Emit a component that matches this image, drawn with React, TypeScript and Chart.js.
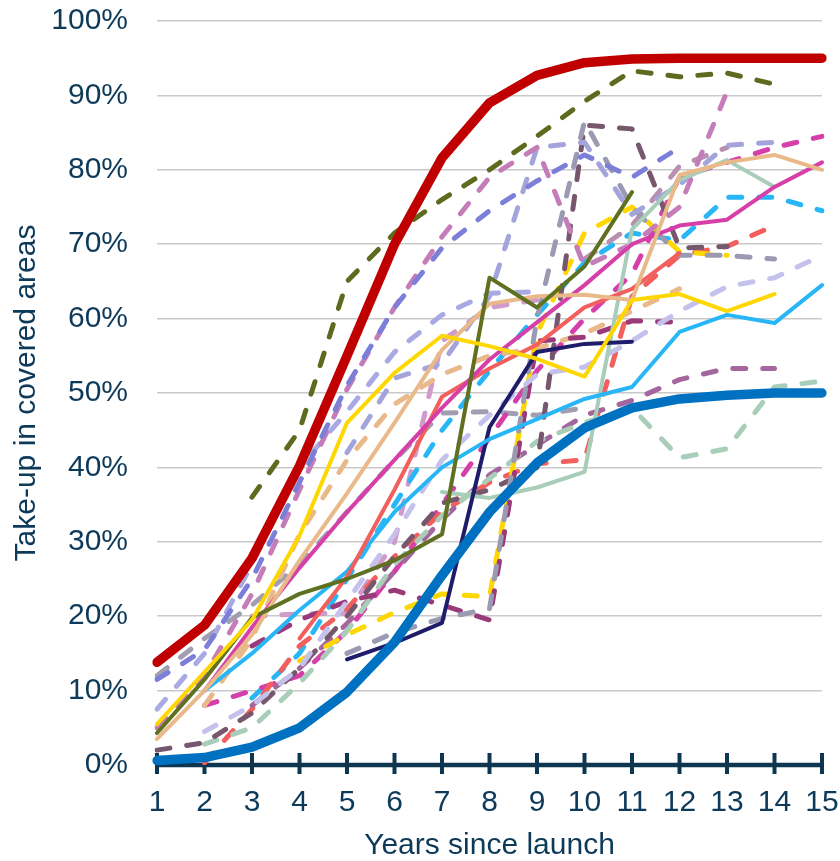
import { useEffect, useRef } from 'react';
import { Chart, registerables } from 'chart.js';

Chart.register(...registerables);

const N = null;

const years = ['1', '2', '3', '4', '5', '6', '7', '8', '9', '10', '11', '12', '13', '14', '15'];
const yTickValues = [0, 10, 20, 30, 40, 50, 60, 70, 80, 90, 100];

// Envelope lines
const upperBound = [13.8, 18.8, 27.8, 40.2, 55, 70, 81.6, 89, 92.7, 94.4, 94.9, 95, 95, 95, 95];
const lowerBound = [0.6, 1, 2.4, 5, 9.8, 16.5, 25.5, 34, 40.6, 45.3, 48, 49.2, 49.7, 50, 50];

// Solid country lines
const yellowSolid = [5.5, 12.5, 19.5, 30.8, 46, 52.7, 57.7, 56.3, 54.6, 52.2, 62.5, 63.3, 61, 63.3, N];
const oliveSolid = [4.3, 11.5, 19.8, 23, 25, 27.5, 31, 65.5, 61.5, 67, 77, N, N, N, N];
const tanSolid = [3.5, 10, 17.5, 27.5, 36.5, 46, 55.8, 62, 63, 63.2, 62.5, 79.3, 81, 82, 80];
const magentaSolid = [N, 10, 18.5, 26.5, 34, 41, 48, 54.5, 59.5, 64.5, 70, 72.5, 73.3, 77.7, 81];
const salmonSolid = [N, N, N, 17, 25.3, 37, 49.5, 53.3, 56.5, 61.5, 64, 68.8, N, N, N];
const skySolid = [N, 10, 15, 20.8, 26, 34, 40, 43.8, 46.5, 49.2, 50.8, 58.2, 60.5, 59.4, 64.5];
const navySolid = [N, N, N, N, 14.2, 16.4, 19.1, 45.4, 55.5, 56.6, 56.9, N, N, N, N];
const sageSolid = [N, N, N, N, N, N, 36.7, 35.9, 37.3, 39.4, 72, 78.6, 81.3, 77.7, N];

// Dashed country lines
const oliveDash = [N, N, 36, 45, 65, 71.5, 76, 80, 84.5, 89.2, 93.3, 92.5, 93, 91.5, N];
const violetDash = [11.5, 15.5, 25, 38, 51, 61.5, 69.5, 74.5, 78.5, 82, 79, 83, N, N, N];
const mauveDash = [5, 12, 23, 37, 50.5, 61.5, 71, 79, 83, 67, 70, 75, 90.5, N, N];
const lavenderDash = [7.5, 15, 27, 40, 47.5, 55.5, 60.5, 63.4, 63.6, N, N, N, N, N, N];
const lavender2Dash = [N, N, N, N, 42, 52, 54, 63, 83, 83.7, 74, 78, 83.3, 83.7, N];
const paleLavenderDash = [N, 4.5, 8, 13, 22, 31, 41, 47, 52.5, 53.5, 57, 61, 64.3, 65.5, 68.5];
const greyBlueDash = [N, N, N, N, 15, 17.8, 19.7, 21, 60, 86.5, 75, 68.5, 68.5, 68, N];
const plumGreyDash = [2, 3, 7, 13, 20, 28, 35.2, 37, 40, 86, 85.5, 69.5, 69.7, N, N];
const plumDash = [N, N, 16, 19.5, 22, 23.5, 21.5, 19.5, 57, 57.5, 59.7, 59.5, N, N, N];
const yellowDash = [N, N, N, 14, 17.5, 20.5, 23, 22.6, 58, 71.5, 75, 69, 68.5, N, N];
const sageDash = [N, 2.8, 5, 11, 18, 27, 33.5, 38.5, 43.5, 46, 48, 41.3, 42.5, 50.8, 51.6];
const purpleDash = [N, N, 8, 13, 19, 26, 33, 39, 43, 47, 49, 51.8, 53.3, 53.3, N];
const tanDash = [N, 8, 17, 31, 41, 48.5, 52.5, 55, 56, 58, 61, 64, N, N, N];
const salmonDash = [N, 0.3, 7.5, 16, 21, 28, 34, 38, 40.5, 41, 63, 68.5, 69.7, 72.5, N];
const magentaDash = [N, 8, 10, 12, 18, 26, 35, 44, 53, 60, 66, 79, 81, 83, 84.5];
const skyDash = [N, N, 9, 15, 25, 35, 45, 53, 60.5, 67.5, 71.5, 70.5, 76.3, 76.3, 74.5];
const pinkDash = [N, N, 20, 20.3, 20.4, 30, 57, 61.5, 62.5, N, N, N, N, N, N];
const greyDash = [12, 17, 21.5, 27, 34, 41, 47.3, 47.5, 47, 48, N, N, N, N, N];
const roseDash = [N, N, N, N, N, N, N, N, N, 68, 72.5, 80.5, 83, N, N];

const NAVY = '#0e3a5a';
const FONT = 'Liberation Sans, Arial, Helvetica, sans-serif';

function solid(label: string, data: (number | null)[], color: string, width = 4) {
  return {
    label,
    data,
    borderColor: color,
    backgroundColor: color,
    borderWidth: width,
    pointRadius: 0,
    tension: 0,
    fill: false,
    borderCapStyle: 'round' as const,
    borderJoinStyle: 'round' as const,
  };
}

function dashed(label: string, data: (number | null)[], color: string) {
  return {
    ...solid(label, data, color, 5),
    borderDash: [13, 17],
  };
}

const axisPlugin = {
  id: 'axisPlugin',
  beforeDatasetsDraw(chart: any) {
    const { ctx, chartArea } = chart;
    const x = chart.scales.x;
    const y0 = chartArea.bottom;
    ctx.save();
    ctx.strokeStyle = '#0f3651';
    ctx.lineWidth = 4.5;
    ctx.beginPath();
    ctx.moveTo(chartArea.left, y0);
    ctx.lineTo(chartArea.right, y0);
    ctx.stroke();
    ctx.lineWidth = 4;
    for (let i = 0; i < x.ticks.length; i++) {
      const px = x.getPixelForTick(i);
      ctx.beginPath();
      ctx.moveTo(px, y0 - 12);
      ctx.lineTo(px, y0 + 9);
      ctx.stroke();
    }
    ctx.restore();
  },
};

function zeroPadding(scale: any) {
  scale.paddingTop = 0;
  scale.paddingBottom = 0;
  scale.paddingLeft = 0;
  scale.paddingRight = 0;
}

export default function App() {
  const ref = useRef<HTMLCanvasElement>(null);

  useEffect(() => {
    if (!ref.current) return;
    const datasets = [
      solid('Upper bound', upperBound, '#c00000', 9.5),
      solid('Lower bound', lowerBound, '#0070c0', 9.5),
      solid('Yellow', yellowSolid, '#ffd700'),
      solid('Olive', oliveSolid, '#5f7020'),
      solid('Tan', tanSolid, '#e9b98a'),
      solid('Magenta', magentaSolid, '#d63fa8'),
      solid('Salmon', salmonSolid, '#f25f5c'),
      solid('Sky', skySolid, '#29b6f6'),
      solid('Navy', navySolid, '#1f1c6b'),
      solid('Sage', sageSolid, '#a8cdb9'),
      dashed('Olive dash', oliveDash, '#5e6b1f'),
      dashed('Violet dash', violetDash, '#7b7fd8'),
      dashed('Mauve dash', mauveDash, '#c47db9'),
      dashed('Lavender dash', lavenderDash, '#a9a9e4'),
      dashed('Lavender 2 dash', lavender2Dash, '#a4a4dc'),
      dashed('Pale lavender dash', paleLavenderDash, '#c4c1ec'),
      dashed('Grey blue dash', greyBlueDash, '#9a9ab2'),
      dashed('Plum grey dash', plumGreyDash, '#76576e'),
      dashed('Plum dash', plumDash, '#9b3a7a'),
      dashed('Yellow dash', yellowDash, '#ffd700'),
      dashed('Sage dash', sageDash, '#a8cdb9'),
      dashed('Purple dash', purpleDash, '#a4679d'),
      dashed('Tan dash', tanDash, '#e9b98a'),
      dashed('Salmon dash', salmonDash, '#f25f5c'),
      dashed('Magenta dash', magentaDash, '#d63faa'),
      dashed('Sky dash', skyDash, '#29b6f6'),
      dashed('Pink dash', pinkDash, '#d09acb'),
      dashed('Grey dash', greyDash, '#a09eb0'),
      dashed('Rose dash', roseDash, '#b890b0'),
    ];

    const chart = new Chart(ref.current, {
      type: 'line',
      data: { labels: years, datasets },
      plugins: [axisPlugin],
      options: {
        responsive: false,
        animation: false,
        spanGaps: false,
        layout: { padding: { top: 21, right: 18, left: 0, bottom: 0 } },
        plugins: {
          legend: { display: false },
          tooltip: { enabled: false },
        },
        scales: {
          x: {
            type: 'category',
            offset: false,
            grid: { display: false, drawTicks: false },
            border: { display: false },
            ticks: {
              autoSkip: false,
              maxRotation: 0,
              padding: 20,
              color: NAVY,
              font: { family: FONT, size: 30 },
            },
            title: {
              display: true,
              text: 'Years since launch',
              color: NAVY,
              font: { family: FONT, size: 30, lineHeight: 1.0 },
              padding: { top: 0, bottom: 0 },
            },
            afterFit(scale: any) {
              scale.height = 96;
              zeroPadding(scale);
            },
          },
          y: {
            min: 0,
            max: 100,
            afterBuildTicks(scale: any) {
              scale.ticks = yTickValues.map((v) => ({ value: v }));
            },
            grid: { color: '#c9c9c9', lineWidth: 1.5, drawTicks: false },
            border: { display: false },
            ticks: {
              padding: 29,
              color: NAVY,
              font: { family: FONT, size: 30 },
              callback: (v: any) => `${v}%`,
            },
            title: {
              display: true,
              text: 'Take-up in covered areas',
              color: NAVY,
              font: { family: FONT, size: 30 },
              padding: { top: 9, bottom: 0 },
            },
            afterFit(scale: any) {
              scale.width = 157;
              zeroPadding(scale);
            },
          },
        },
      },
    });
    return () => chart.destroy();
  }, []);

  return (
    <div style={{ position: 'absolute', left: 0, top: 0, width: 840, height: 861, background: '#fff' }}>
      <canvas ref={ref} width={840} height={861} style={{ display: 'block' }} />
    </div>
  );
}
